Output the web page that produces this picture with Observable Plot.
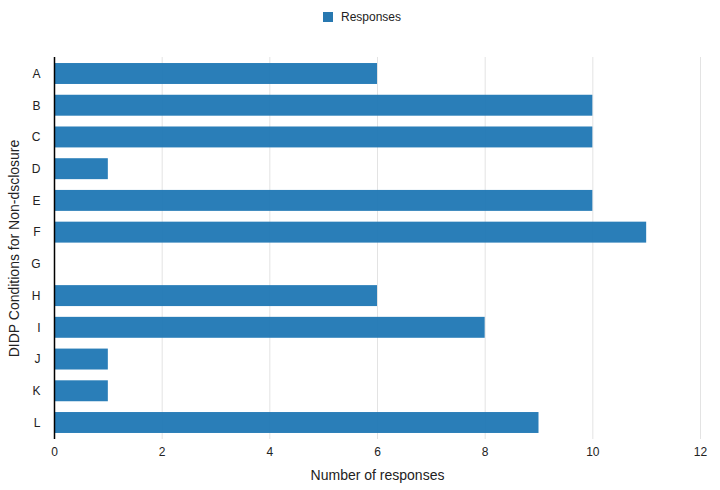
<!DOCTYPE html>
<html>
<head>
<meta charset="utf-8">
<script src="https://cdn.jsdelivr.net/npm/d3@7"></script>
<script src="https://cdn.jsdelivr.net/npm/@observablehq/plot@0.6"></script>
<style>
  body { margin: 0; background: #fff; font-family: "Liberation Sans", Arial, sans-serif; }
  #legend { height: 35px; position: relative; font-size: 12px; color: #222; }
  #legend .sw { position: absolute; left: 323px; top: 12px; width: 10px; height: 10px; background: #2878b0; }
  #legend .lb { position: absolute; left: 341px; top: 10px; line-height: 14px; }
  #chart svg { display: block; }
</style>
</head>
<body>
<div id="legend"><span class="sw"></span><span class="lb">Responses</span></div>
<div id="chart"></div>
<script>
const categories = ["A", "B", "C", "D", "E", "F", "G", "H", "I", "J", "K", "L"];
const responses = [6, 10, 10, 1, 10, 11, 0, 6, 8, 1, 1, 9];
const xTicks = [0, 2, 4, 6, 8, 10, 12];
const seriesName = "Responses";

const data = categories.map((c, i) => ({category: c, value: responses[i], series: seriesName}));

const chart = Plot.plot({
  width: 720,
  height: 455,
  marginLeft: 54,
  marginRight: 20,
  marginTop: 22,
  marginBottom: 51,
  style: {fontFamily: '"Liberation Sans", Arial, sans-serif', fontSize: "12px", color: "#222", background: "#fff"},
  x: {domain: [0, 12]},
  y: {domain: categories, paddingInner: 0.34, paddingOuter: 0.19, round: false},
  marks: [
    Plot.gridX(xTicks, {stroke: "#e3e3e3", strokeOpacity: 1}),
    Plot.barX(data, {x: "value", y: "category", fill: "#1f77b4", fillOpacity: 0.95}),
    Plot.ruleX([0], {stroke: "#000", strokeWidth: 1.5}),
    Plot.axisX(xTicks, {tickSize: 0, tickPadding: 8, label: null, fill: "#222", fontSize: 12}),
    Plot.axisX([], {tickSize: 0, label: "Number of responses", labelAnchor: "center", labelArrow: "none", labelOffset: 40, fill: "#222", fontSize: 14}),
    Plot.axisY({tickSize: 0, tickPadding: 14, label: null, fill: "#222", fontSize: 12}),
    Plot.axisY([], {tickSize: 0, label: "DIDP Conditions for Non-dsclosure", labelAnchor: "center", labelArrow: "none", labelOffset: 45, fill: "#222", fontSize: 14})
  ]
});
document.getElementById("chart").appendChild(chart);
</script>
</body>
</html>
